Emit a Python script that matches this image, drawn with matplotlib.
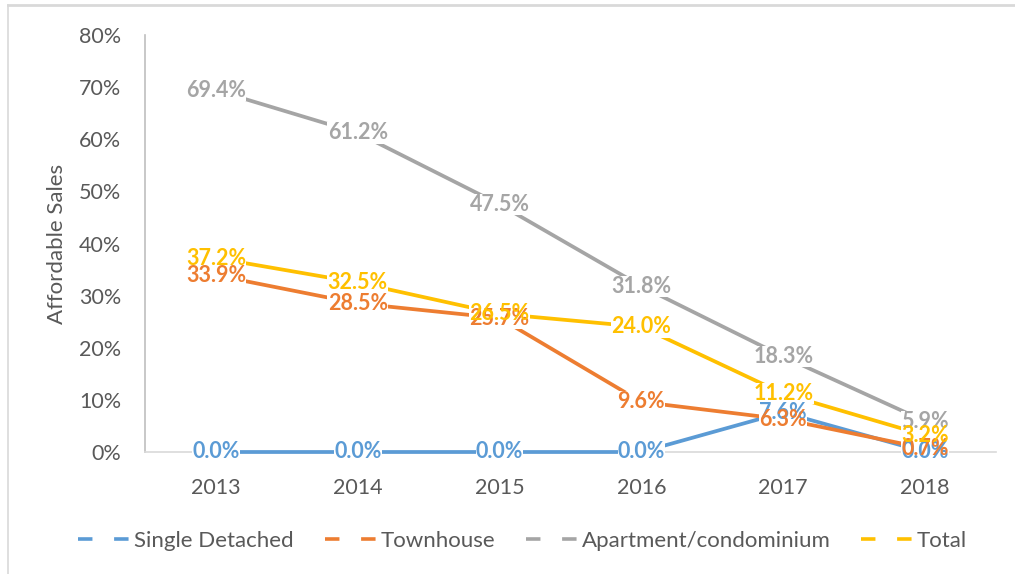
import matplotlib.pyplot as plt
from matplotlib.lines import Line2D
from matplotlib.ticker import PercentFormatter

years = ["2013", "2014", "2015", "2016", "2017", "2018"]
single_detached = [0.0, 0.0, 0.0, 0.0, 7.6, 0.0]
townhouse = [33.9, 28.5, 25.7, 9.6, 6.3, 0.7]
apartment = [69.4, 61.2, 47.5, 31.8, 18.3, 5.9]
total = [37.2, 32.5, 26.5, 24.0, 11.2, 3.2]

series_names = ["Single Detached", "Townhouse", "Apartment/condominium", "Total"]
series_values = [single_detached, townhouse, apartment, total]
colors = ["#5B9BD5", "#ED7D31", "#A5A5A5", "#FFC000"]

plt.rcParams['font.family'] = ['Lato', 'DejaVu Sans']

fig = plt.figure(figsize=(10.15, 5.74), dpi=100)
ax = fig.add_axes([145 / 1015, 1 - 452 / 574, (996 - 145) / 1015, (452 - 35) / 574])

x = list(range(len(years)))
for name, vals, c in zip(series_names, series_values, colors):
    ax.plot(x, vals, color=c, lw=2.7, solid_capstyle='round', zorder=2.6, clip_on=False)

# white boxes behind labels cut the lines, then the label texts on top of all boxes
for i, (vals, c) in enumerate(zip(series_values, colors)):
    for xi, v in zip(x, vals):
        ax.text(xi, v, f"{v:.1f}%", color='none', fontsize=15.5, fontweight='bold',
                ha='center', va='center', zorder=3,
                bbox=dict(facecolor='white', edgecolor='none', pad=0.1))
for i, (vals, c) in enumerate(zip(series_values, colors)):
    for xi, v in zip(x, vals):
        ax.text(xi, v, f"{v:.1f}%", color=c, fontsize=15.5, fontweight='bold',
                ha='center', va='center', zorder=4 + i)

ax.set_xlim(-0.5, 5.5)
ax.set_ylim(0, 80)
ax.set_xticks(x)
ax.set_xticklabels(years)
ax.set_yticks(range(0, 81, 10))
ax.yaxis.set_major_formatter(PercentFormatter(decimals=0))
ax.tick_params(axis='x', length=0, labelsize=15.5, labelcolor='#595959', pad=19)
ax.tick_params(axis='y', length=0, labelsize=15.5, labelcolor='#595959', pad=17)
for s in ['top', 'right']:
    ax.spines[s].set_visible(False)
ax.spines['bottom'].set_color('#D9D9D9')
ax.spines['left'].set_color('#BFBFBF')
ax.spines['bottom'].set_linewidth(1.2)
ax.spines['left'].set_linewidth(1.2)
ax.set_ylabel("Affordable Sales", fontsize=16, color='#595959')
ax.yaxis.set_label_coords(-0.092, 0.5)

handles = [Line2D([0], [0], color=c, lw=2.6, ls=(0, (4, 6))) for c in colors]
fig.legend(handles, series_names, loc='center', bbox_to_anchor=(0.515, 1 - 541 / 574),
           ncol=4, frameon=False, fontsize=16, labelcolor='#595959',
           handlelength=2.5, handletextpad=0.0, columnspacing=1.4)

# outer chart border pieces visible in the screenshot
fig.add_artist(Line2D([8 / 1015, 1], [1 - 4.5 / 574] * 2, color='#D9D9D9', lw=2))
fig.add_artist(Line2D([8 / 1015] * 2, [0, 1 - 4.5 / 574], color='#D9D9D9', lw=1.2))

fig.savefig("out.png", dpi=100)
